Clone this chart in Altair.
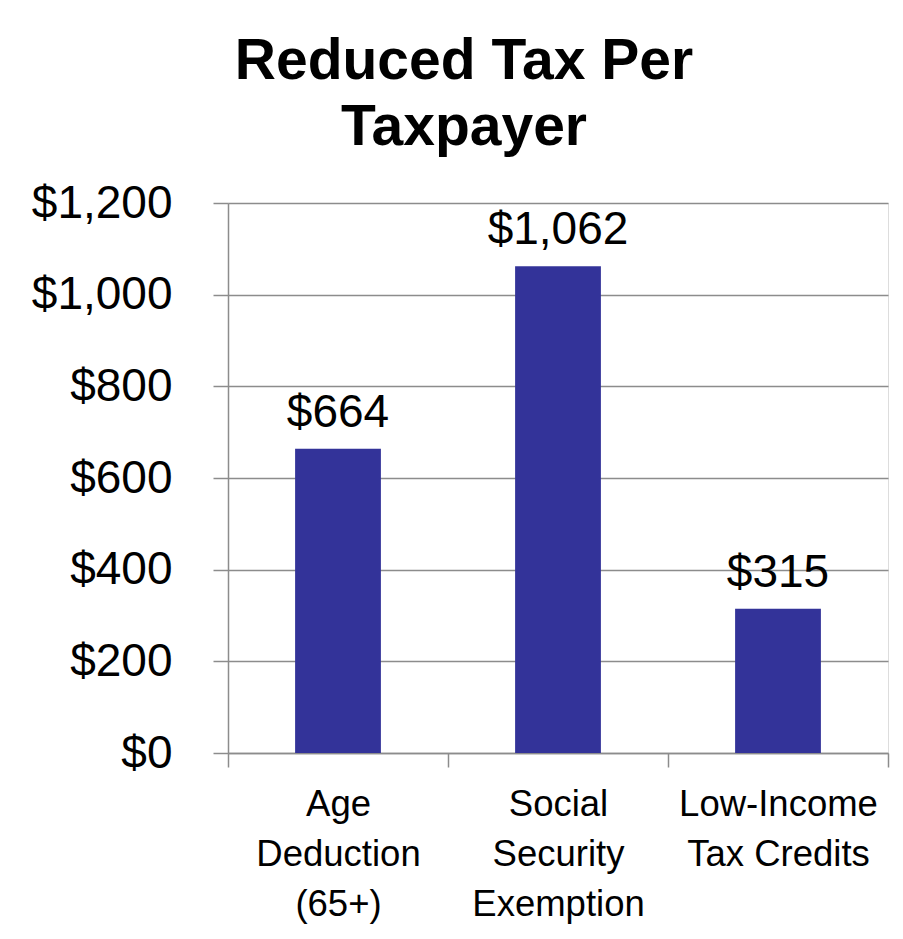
import altair as alt
import pandas as pd

categories = ["Age Deduction (65+)", "Social Security Exemption", "Low-Income Tax Credits"]
label_lines = [["Age", "Deduction", "(65+)"], ["Social", "Security", "Exemption"], ["Low-Income", "Tax Credits"]]
values = [664, 1062, 315]
value_labels = ["$664", "$1,062", "$315"]

df = pd.DataFrame({"category": categories, "value": values, "label": value_labels})

label_expr = " : ".join(
    f"datum.value == '{c}' ? {lines!r}" for c, lines in zip(categories, label_lines)
) + " : datum.label"

FONT = "Liberation Sans"
GRAY = "#8c8c8c"

x = alt.X(
    "category:N",
    sort=categories,
    title=None,
    scale=alt.Scale(paddingInner=0, paddingOuter=0),
    axis=alt.Axis(
        labelAngle=0,
        labelExpr=label_expr,
        labelFontSize=36.5,
        labelLineHeight=50,
        labelColor="black",
        labelFont=FONT,
        labelPadding=19,
        labelBaseline="top",
        labelLimit=400,
        tickBand="extent",
        tickSize=14,
        tickColor=GRAY,
        domainColor=GRAY,
        tickWidth=1.5,
        domainWidth=1.5,
        grid=False,
    ),
)
y = alt.Y(
    "value:Q",
    title=None,
    scale=alt.Scale(domain=[0, 1200]),
    axis=alt.Axis(
        values=[0, 200, 400, 600, 800, 1000, 1200],
        labelExpr="'$' + format(datum.value, ',')",
        labelFontSize=46,
        labelColor="black",
        labelFont=FONT,
        labelPadding=41,
        tickSize=15,
        tickColor=GRAY,
        domainColor=GRAY,
        gridColor=GRAY,
        tickWidth=1.5,
        domainWidth=1.5,
        gridWidth=1.5,
        grid=True,
    ),
)

bars = alt.Chart(df).mark_bar(
    color="#333399", width=alt.RelativeBandSize(0.39)
).encode(x=x, y=y)
texts = alt.Chart(df).mark_text(
    fontSize=46, font=FONT, color="black", baseline="alphabetic", dy=-22
).encode(x=alt.X("category:N", sort=categories), y="value:Q", text="label:N")

chart = (
    alt.layer(bars, texts)
    .properties(
        width=660,
        height=550,
        title=alt.TitleParams(
            text=["Reduced Tax Per", "Taxpayer"],
            fontSize=57,
            font=FONT,
            fontWeight="bold",
            color="black",
            lineHeight=66,
            anchor="middle",
            frame="group",
            dx=-94,
            offset=23,
        ),
        padding={"left": 228, "top": 203, "right": 15, "bottom": 186},
        autosize=alt.AutoSizeParams(type="none"),
    )
    .configure_view(stroke=None)
    .configure(background="white")
)

chart.save("out.html", embed_options={"renderer": "svg", "actions": False})
